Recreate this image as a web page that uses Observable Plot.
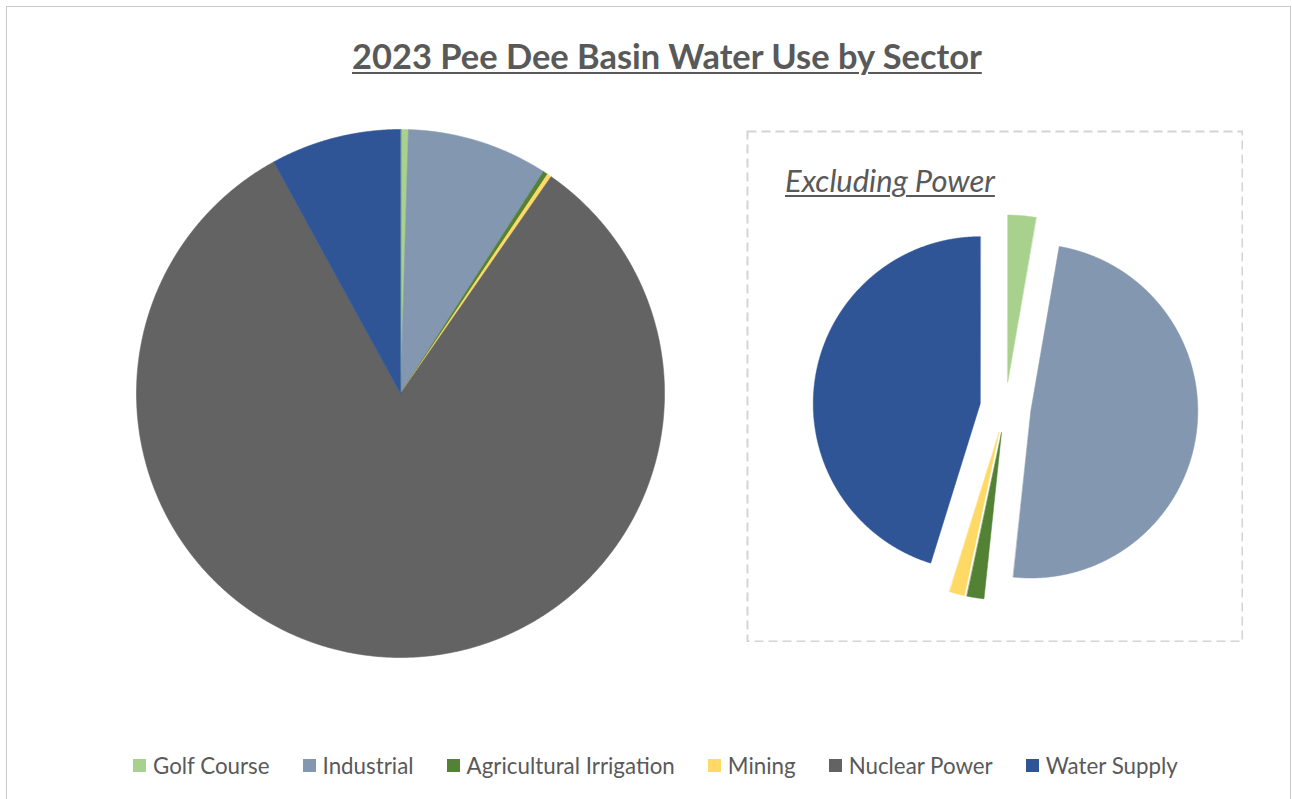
<!DOCTYPE html>
<html>
<head>
<meta charset="utf-8">
<script src="https://cdn.jsdelivr.net/npm/d3@7"></script>
<script src="https://cdn.jsdelivr.net/npm/@observablehq/plot@0.6"></script>
<style>
  html, body { margin: 0; padding: 0; background: #ffffff; width: 1292px; height: 799px; overflow: hidden; }
  body { font-family: Lato, "Open Sans", sans-serif; color: #595959; position: relative; }
  #frame { position: absolute; left: 6px; top: 6px; width: 1285px; height: 820px; border: 1.5px solid #c9c9c9; box-sizing: border-box; }
  .txt { position: absolute; white-space: nowrap; line-height: 1; }
  #title { font-weight: 700; text-decoration: underline; text-decoration-thickness: 2px; text-underline-offset: 3px; }
  #subtitle { font-style: italic; text-decoration: underline; text-decoration-thickness: 1.5px; text-underline-offset: 3px; }
  #legend { position: absolute; display: flex; align-items: center; white-space: nowrap; line-height: 1; }
  .item { display: flex; align-items: center; margin-right: 33px; }
  .sw { width: 13px; height: 13px; margin-right: 7px; flex: none; }
  #bigpie, #smallpie { position: absolute; }
</style>
</head>
<body>
<div id="frame"></div>
<div id="title" class="txt">2023 Pee Dee Basin Water Use by Sector</div>
<div id="bigpie"></div>
<div id="smallpie"></div>
<div id="subtitle" class="txt">Excluding Power</div>
<div id="legend"></div>
<script>
// ---- data (share of total 2023 basin withdrawals, %) ----
const sectors = ["Golf Course", "Industrial", "Agricultural Irrigation", "Mining", "Nuclear Power", "Water Supply"];
const shares  = [0.48, 8.63, 0.29, 0.26, 82.36, 7.97];
const colors  = ["#a9d18e", "#8497b0", "#548235", "#ffd966", "#636363", "#2f5597"];
const excludedSector = "Nuclear Power";

// ---- geometry helper: pie slices as closed polygons in unit coordinates ----
function slicePolygons(names, values, explode) {
  const arcs = d3.pie().sort(null)(values);
  const pts = [];
  arcs.forEach((a, i) => {
    const mid = (a.startAngle + a.endAngle) / 2;
    const ox = explode * Math.sin(mid), oy = -explode * Math.cos(mid);
    pts.push({sector: names[i], x: ox, y: oy});
    const n = Math.max(2, Math.ceil((a.endAngle - a.startAngle) / 0.004));
    for (let k = 0; k <= n; k++) {
      const t = a.startAngle + (a.endAngle - a.startAngle) * k / n;
      pts.push({sector: names[i], x: ox + Math.sin(t), y: oy - Math.cos(t)});
    }
  });
  return pts;
}

const color = {domain: sectors, range: colors};

// ---- big pie: all sectors ----
const bigPts = slicePolygons(sectors, shares, 0);
const big = Plot.plot({
  width: 540, height: 540, margin: 0,
  x: {domain: [-1, 1], range: [6, 534], axis: null},
  y: {domain: [-1, 1], range: [6, 534], axis: null},
  color,
  marks: [
    Plot.line(bigPts, {x: "x", y: "y", z: "sector", fill: "sector", stroke: "sector", strokeWidth: 0.6, curve: "linear-closed"})
  ]
});
const bigHost = document.getElementById("bigpie");
bigHost.style.left = "130px"; bigHost.style.top = "123px";
bigHost.appendChild(big);

// ---- small exploded pie: excluding power ----
const smallNames = sectors.filter(s => s !== excludedSector);
const smallVals = shares.filter((v, i) => sectors[i] !== excludedSector);
const smallPts = slicePolygons(smallNames, smallVals, 0.153);
const small = Plot.plot({
  width: 497, height: 512,
  marginTop: 1, marginRight: 1, marginBottom: 1, marginLeft: 1,
  x: {domain: [-1, 1], range: [92, 426], axis: null},
  y: {domain: [-1, 1], range: [110, 444], axis: null},
  color,
  marks: [
    Plot.frame({stroke: "#d4d4d4", strokeWidth: 2, strokeDasharray: "9,5"}),
    Plot.line(smallPts, {x: "x", y: "y", z: "sector", fill: "sector", stroke: "sector", strokeWidth: 0.5, curve: "linear-closed"})
  ]
});
const smallHost = document.getElementById("smallpie");
smallHost.style.left = "746px"; smallHost.style.top = "130px";
smallHost.appendChild(small);

// ---- legend ----
const legend = document.getElementById("legend");
sectors.forEach((s, i) => {
  const it = document.createElement("div"); it.className = "item";
  const sw = document.createElement("div"); sw.className = "sw"; sw.style.background = colors[i];
  const lb = document.createElement("span"); lb.className = "lbl"; lb.textContent = s;
  it.appendChild(sw); it.appendChild(lb); legend.appendChild(it);
});

// ---- text fitting to the reference layout ----
function fitText(el, targetWidth, baseline, left) {
  el.style.fontSize = "100px";
  const w = el.getBoundingClientRect().width;
  const fs = 100 * targetWidth / w;
  el.style.fontSize = fs + "px";
  el.style.left = left + "px";
  el.style.top = (baseline - 0.887 * fs) + "px";
  return fs;
}
fitText(document.getElementById("title"), 630, 70, 352);
fitText(document.getElementById("subtitle"), 210, 192, 785);

const labels = Array.from(document.querySelectorAll(".lbl"));
legend.style.fontSize = "100px";
const sumW = labels.reduce((a, l) => a + l.getBoundingClientRect().width, 0);
const lfs = 100 * 760 / sumW;
legend.style.fontSize = lfs + "px";
legend.style.left = "133px";
legend.style.top = (766 - legend.getBoundingClientRect().height / 2) + "px";
</script>
</body>
</html>
